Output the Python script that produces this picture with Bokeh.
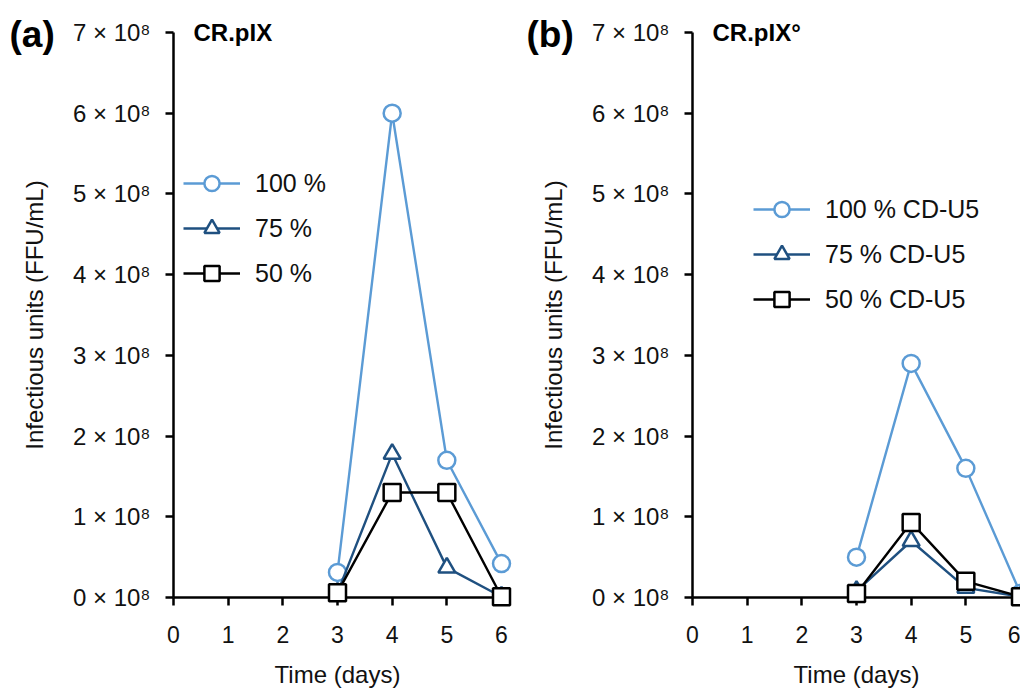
from bokeh.plotting import figure
from bokeh.layouts import row
from bokeh.models import FixedTicker, Legend
from bokeh.core.properties import value
from bokeh.embed import file_html
from bokeh.resources import INLINE

# ---------------- data ----------------
days = [3, 4, 5, 6]
a_100 = [0.31e8, 6.00e8, 1.70e8, 0.42e8]
a_75 = [0.06e8, 1.78e8, 0.37e8, 0.01e8]
a_50 = [0.06e8, 1.30e8, 1.30e8, 0.01e8]
b_100 = [0.50e8, 2.90e8, 1.60e8, 0.05e8]
b_75 = [0.08e8, 0.70e8, 0.12e8, 0.01e8]
b_50 = [0.05e8, 0.93e8, 0.20e8, 0.01e8]

x_ticks = [0, 1, 2, 3, 4, 5, 6]
y_ticks = [0, 1e8, 2e8, 3e8, 4e8, 5e8, 6e8, 7e8]
y_tick_labels = ["0 × 10⁸", "1 × 10⁸", "2 × 10⁸", "3 × 10⁸", "4 × 10⁸",
                 "5 × 10⁸", "6 × 10⁸", "7 × 10⁸"]
labels_a = ["100 %", "75 %", "50 %"]
labels_b = ["100 % CD-U5", "75 % CD-U5", "50 % CD-U5"]
titles = ["CR.pIX", "CR.pIX°"]
panel_tags = ["(a)", "(b)"]

C100 = "#5b9bd5"
C75 = "#1f5080"
C50 = "#000000"
FONT = "Liberation Sans"


def make_panel(series, labels, title, tag, width, border_left, border_right,
               legend_xy, tag_dx):
    p = figure(width=width, height=690, x_range=(0, 6), y_range=(0, 7e8),
               output_backend="svg", toolbar_location=None,
               min_border_left=border_left, min_border_right=border_right,
               min_border_top=32, min_border_bottom=93)
    p.outline_line_color = None
    p.grid.visible = False
    p.background_fill_color = "white"
    p.border_fill_color = "white"

    for ax in (p.xaxis[0], p.yaxis[0]):
        ax.axis_line_width = 2.5
        ax.axis_line_color = "black"
        ax.major_tick_line_width = 2.5
        ax.major_tick_line_color = "black"
        ax.major_tick_in = 0
        ax.major_tick_out = 8
        ax.minor_tick_line_color = None
        ax.major_label_text_font = FONT
        ax.major_label_text_color = "#111111"
        ax.axis_label_text_font = FONT
        ax.axis_label_text_font_size = "24px"
        ax.axis_label_text_font_style = "normal"
        ax.axis_label_text_color = "#111111"

    p.xaxis.ticker = FixedTicker(ticks=x_ticks)
    p.xaxis.major_label_text_font_size = "23px"
    p.xaxis.major_label_standoff = 20
    p.xaxis.axis_label = "Time (days)"
    p.xaxis.axis_label_standoff = 15

    p.yaxis.ticker = FixedTicker(ticks=y_ticks)
    p.yaxis.major_label_overrides = {t: l for t, l in zip(y_ticks, y_tick_labels)}
    p.yaxis.major_label_text_font_size = "24px"
    p.yaxis.major_label_standoff = 15
    p.yaxis.axis_label = "Infectious units (FFU/mL)"
    p.yaxis.axis_label_standoff = 22

    styles = [(C100, "circle"), (C75, "triangle"), (C50, "square")]
    items = []
    for vals, lab, (col, mk) in zip(series, labels, styles):
        ln = p.line(days, vals, line_color=col, line_width=2.4, level="overlay")
        sc = p.scatter(days, vals, marker=mk, size=17,
                       line_color=col, line_width=2.5, fill_color="white",
                       level="overlay")
        items.append((lab, [ln, sc]))

    leg = Legend(items=items, location=legend_xy, orientation="vertical",
                 glyph_width=57, glyph_height=38, label_height=20,
                 spacing=7, padding=0, margin=0, label_standoff=15,
                 label_text_font=FONT, label_text_font_size="25px",
                 label_text_color="#111111",
                 border_line_alpha=0, background_fill_alpha=0)
    p.add_layout(leg, "center")

    # panel title and tag, anchored at the top of the y axis
    anchor_x = [x_ticks[0]]
    anchor_y = [y_ticks[-1]]
    p.text(anchor_x, anchor_y, text=[title], x_offset=20, y_offset=0,
           text_font=value(FONT), text_font_size="24px",
           text_font_style="bold", text_baseline="middle", text_align="left",
           text_color="black", level="overlay")
    p.text(anchor_x, anchor_y, text=[tag], x_offset=tag_dx, y_offset=2,
           text_font=value(FONT), text_font_size="37px",
           text_font_style="bold", text_baseline="middle", text_align="left",
           text_color="black", level="overlay")
    return p


pa = make_panel([a_100, a_75, a_50], labels_a, titles[0], panel_tags[0],
                527, 173, 26, (10, 305), -164)
pb = make_panel([b_100, b_75, b_50], labels_b, titles[1], panel_tags[1],
                493, 165, 0, (61, 279), -166)

layout = row(pa, pb, spacing=0)
open("out.html", "w").write(file_html(layout, INLINE))
